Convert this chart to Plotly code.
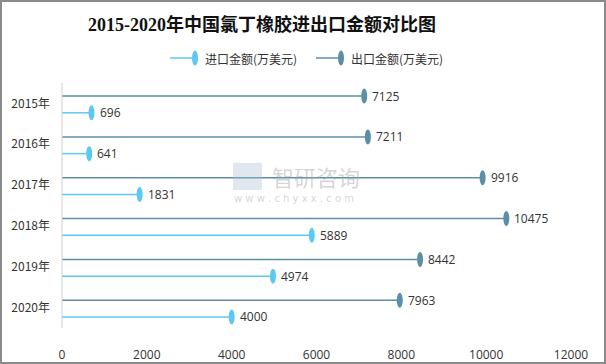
import plotly.graph_objects as go

years = ["2015年", "2016年", "2017年", "2018年", "2019年", "2020年"]
import_vals = [696, 641, 1831, 5889, 4974, 4000]
export_vals = [7125, 7211, 9916, 10475, 8442, 7963]
x_ticks = [0, 2000, 4000, 6000, 8000, 10000, 12000]

LIGHT = "#5cc8f4"
DARK = "#5b8fa8"
W, H = 606, 364
ML, MR, MT, MB = 62, 35, 83, 36
PW, PH = W - ML - MR, H - MT - MB

def px(xp):
    return (xp - ML) / PW

def py(yp):
    return (H - MB - yp) / PH

idx = list(range(len(years)))
y_exp = [i - 0.18 for i in idx]
y_imp = [i + 0.23 for i in idx]

fig = go.Figure()
for vals, ys, col, name in [(export_vals, y_exp, DARK, "出口金额(万美元)"),
                            (import_vals, y_imp, LIGHT, "进口金额(万美元)")]:
    xs, yy = [], []
    for v, y in zip(vals, ys):
        xs += [0, v, None]
        yy += [y, y, None]
    fig.add_trace(go.Scatter(x=xs, y=yy, mode="lines", line=dict(color=col, width=1.5),
                             name=name, showlegend=False, hoverinfo="skip"))

shapes = []
annotations = []
for vals, ys, col in [(export_vals, y_exp, DARK), (import_vals, y_imp, LIGHT)]:
    for v, y in zip(vals, ys):
        shapes.append(dict(type="circle", xref="x", yref="y", xsizemode="pixel", ysizemode="pixel",
                           xanchor=v, yanchor=y, x0=-3, x1=3, y0=-7.5, y1=7.5,
                           fillcolor=col, line=dict(width=0)))
        annotations.append(dict(x=v, y=y, xref="x", yref="y", text=str(v), showarrow=False,
                                xanchor="left", yanchor="middle", xshift=6,
                                font=dict(size=12, color="#333333", family="Open Sans, Noto Sans CJK SC")))

# custom legend
legend_items = [(170, 195, LIGHT, "进口金额(万美元)", 203), (316, 341, DARK, "出口金额(万美元)", 349)]
for x0, x1, col, txt, tx in legend_items:
    shapes.append(dict(type="line", xref="paper", yref="paper", x0=px(x0), x1=px(x1),
                       y0=py(58), y1=py(58), line=dict(color=col, width=1.5)))
    shapes.append(dict(type="circle", xref="paper", yref="paper", x0=px(x1 - 3), x1=px(x1 + 3),
                       y0=py(65.5), y1=py(50.5), fillcolor=col, line=dict(width=0)))
    annotations.append(dict(x=px(tx), y=py(58), xref="paper", yref="paper", text=txt, showarrow=False,
                            xanchor="left", yanchor="middle",
                            font=dict(size=12, color="#333333", family="Noto Sans CJK SC")))

# watermark
annotations.append(dict(x=px(270), y=py(176), xref="paper", yref="paper", text="智研咨询", showarrow=False,
                        xanchor="left", yanchor="middle",
                        font=dict(size=22, color="rgba(160,160,160,0.45)", family="Noto Sans CJK SC")))
annotations.append(dict(x=px(232), y=py(198), xref="paper", yref="paper", text="w w w . c h y x x . c o m",
                        showarrow=False, xanchor="left", yanchor="middle",
                        font=dict(size=10, color="rgba(160,160,160,0.45)", family="DejaVu Sans")))
shapes.append(dict(type="rect", xref="paper", yref="paper", x0=px(233), x1=px(262), y0=py(190), y1=py(163),
                   fillcolor="rgba(170,185,210,0.35)", line=dict(width=0)))

# title (positioned left of center as in reference)
annotations.append(dict(x=px(262), y=py(24), xref="paper", yref="paper",
                        text="<b>2015-2020年中国氯丁橡胶进出口金额对比图</b>", showarrow=False,
                        xanchor="center", yanchor="middle",
                        font=dict(size=18, color="#111111", family="Liberation Serif, Noto Sans CJK SC")))

# outer frame
shapes.append(dict(type="rect", xref="paper", yref="paper", x0=px(1), x1=px(W - 1), y0=py(H - 1), y1=py(1),
                   line=dict(color="#8a8a8a", width=2), fillcolor="rgba(0,0,0,0)"))
# y-axis line
shapes.append(dict(type="line", xref="paper", yref="paper", x0=0, x1=0, y0=0, y1=1,
                   line=dict(color="#d0d0d0", width=1)))

fig.update_layout(
    width=W, height=H,
    margin=dict(l=ML, r=MR, t=MT, b=MB, autoexpand=False),
    paper_bgcolor="white", plot_bgcolor="white",
    xaxis=dict(range=[0, 12000], tickvals=x_ticks, ticktext=[str(t) for t in x_ticks],
               showgrid=False, zeroline=False, showline=False, ticks="", automargin=False,
               tickfont=dict(size=12, color="#333333", family="Open Sans"), ticklabelstandoff=18),
    yaxis=dict(range=[len(years) - 0.5, -0.5], tickvals=idx, ticktext=years, automargin=False,
               showgrid=False, zeroline=False, showline=False, ticks="",
               tickfont=dict(size=12, color="#333333", family="Noto Sans CJK SC"), ticklabelstandoff=11),
    shapes=shapes, annotations=annotations, showlegend=False,
)

fig.write_html("out.html", config={"displayModeBar": False},
               post_script="document.body.style.margin='0';document.body.style.padding='0';")
